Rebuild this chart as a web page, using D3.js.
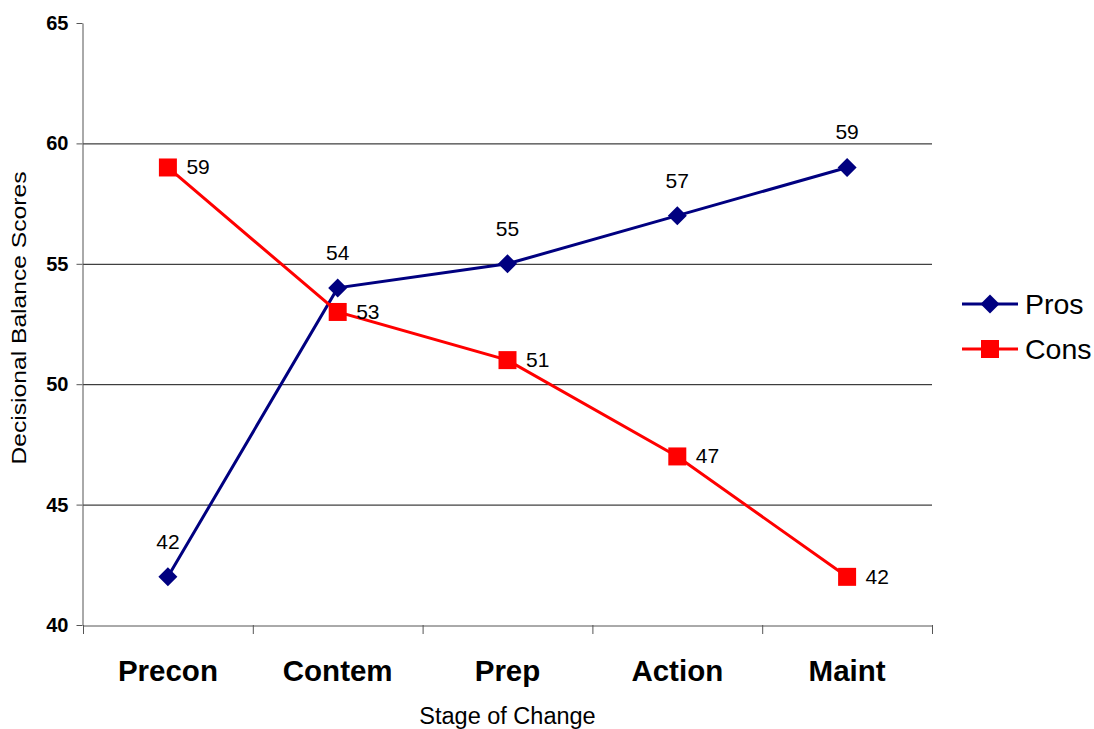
<!DOCTYPE html>
<html>
<head>
<meta charset="utf-8">
<script src="https://cdn.jsdelivr.net/npm/d3@7"></script>
<style>
  body { margin: 0; background: #fff; }
  svg { display: block; font-family: Arial, "Liberation Sans", sans-serif; }
</style>
</head>
<body>
<div id="chart"></div>
<script>
const stages = ['Precon', 'Contem', 'Prep', 'Action', 'Maint'];
const prosValues = [42, 54, 55, 57, 59];
const consValues = [59, 53, 51, 47, 42];
const yTicks = [40, 45, 50, 55, 60, 65];

const width = 1094, height = 729;
const margin = { top: 23, right: 162, bottom: 104, left: 83 };
const FONT = 'Arial, "Liberation Sans", sans-serif';

const svg = d3.select('#chart')
    .append('svg')
    .attr('width', width)
    .attr('height', height);

// X scale (categories)
const x = d3.scaleBand()
    .domain(stages)
    .range([margin.left, width - margin.right]);

// Y scale
const y = d3.scaleLinear()
    .domain([40, 65])
    .range([height - margin.bottom, margin.top]);

const xMid = d => x(d) + x.bandwidth() / 2;

// Gridlines (skip bottom & top)
svg.selectAll('.grid')
    .data(yTicks.filter(t => t > 40 && t < 65))
    .enter()
    .append('line')
    .attr('x1', margin.left)
    .attr('x2', width - margin.right)
    .attr('y1', d => y(d) + 0.5)
    .attr('y2', d => y(d) + 0.5)
    .attr('stroke', '#111')
    .attr('stroke-width', 1);

// Y axis
const yAxis = svg.append('g')
    .attr('transform', `translate(${margin.left - 0.5},0)`)
    .call(d3.axisLeft(y).tickValues(yTicks).tickSize(6).tickSizeOuter(0));
yAxis.select('.domain').attr('stroke', '#555');
yAxis.selectAll('.tick line').attr('stroke', '#555');
yAxis.selectAll('.tick text')
    .attr('font-size', '20px')
    .attr('font-weight', 'bold')
    .attr('fill', '#000')
    .attr('font-family', FONT)
    .attr('x', -14);

// X axis
const xAxis = svg.append('g')
    .attr('transform', `translate(0,${height - margin.bottom + 0.5})`)
    .call(d3.axisBottom(x).tickSize(0).tickSizeOuter(0));
xAxis.select('.domain').attr('stroke', '#555');
xAxis.selectAll('.tick text')
    .attr('font-size', '29.5px')
    .attr('font-weight', 'bold')
    .attr('fill', '#000')
    .attr('font-family', FONT)
    .attr('dy', '0')
    .attr('y', 55);

// Category boundary ticks
const bounds = stages.map(s => x(s)).concat([x(stages[stages.length - 1]) + x.bandwidth()]);
svg.selectAll('.xtick')
    .data(bounds)
    .enter()
    .append('line')
    .attr('x1', d => d + 0.5)
    .attr('x2', d => d + 0.5)
    .attr('y1', height - margin.bottom)
    .attr('y2', height - margin.bottom + 9)
    .attr('stroke', '#555');

// Axis titles
svg.append('text')
    .attr('x', xMid('Prep'))
    .attr('y', 724)
    .attr('text-anchor', 'middle')
    .attr('font-size', '23.5px')
    .text('Stage of Change');

svg.append('text')
    .attr('transform', 'translate(26,318) rotate(-90)')
    .attr('text-anchor', 'middle')
    .attr('font-size', '20px')
    .attr('textLength', 293)
    .attr('lengthAdjust', 'spacingAndGlyphs')
    .text('Decisional Balance Scores');

// Line generator
const line = d3.line()
    .x((d, i) => xMid(stages[i]))
    .y(d => y(d));

// Pros line
svg.append('path')
    .datum(prosValues)
    .attr('fill', 'none')
    .attr('stroke', '#000080')
    .attr('stroke-width', 3)
    .attr('d', line);

// Cons line
svg.append('path')
    .datum(consValues)
    .attr('fill', 'none')
    .attr('stroke', '#ff0000')
    .attr('stroke-width', 3)
    .attr('d', line);

const diamond = d3.symbol().type(d3.symbolDiamond2).size(230);
const square = d3.symbol().type(d3.symbolSquare).size(324);

// Pros markers
svg.selectAll('.dot-pros')
    .data(prosValues)
    .enter()
    .append('path')
    .attr('d', diamond)
    .attr('transform', (d, i) => `translate(${xMid(stages[i])},${y(d)})`)
    .attr('fill', '#000080');

// Cons markers
svg.selectAll('.dot-cons')
    .data(consValues)
    .enter()
    .append('path')
    .attr('d', square)
    .attr('transform', (d, i) => `translate(${xMid(stages[i])},${y(d)})`)
    .attr('fill', '#ff0000');

// Pros labels (above)
svg.selectAll('.lbl-pros')
    .data(prosValues)
    .enter()
    .append('text')
    .attr('x', (d, i) => xMid(stages[i]))
    .attr('y', d => y(d) - 28)
    .attr('text-anchor', 'middle')
    .attr('font-size', '21px')
    .text(d => d);

// Cons labels (right)
svg.selectAll('.lbl-cons')
    .data(consValues)
    .enter()
    .append('text')
    .attr('x', (d, i) => xMid(stages[i]) + 18.5)
    .attr('y', d => y(d) + 7)
    .attr('font-size', '21px')
    .text(d => d);

// Legend
const legend = [
    { name: 'Pros', color: '#000080', sym: diamond, y: 304 },
    { name: 'Cons', color: '#ff0000', sym: square, y: 349 }
];
const lg = svg.selectAll('.legend')
    .data(legend)
    .enter()
    .append('g')
    .attr('transform', d => `translate(962,${d.y})`);
lg.append('line')
    .attr('x1', 0).attr('x2', 56)
    .attr('stroke', d => d.color)
    .attr('stroke-width', 3);
lg.append('path')
    .attr('d', d => d.sym())
    .attr('transform', 'translate(28,0)')
    .attr('fill', d => d.color);
lg.append('text')
    .attr('x', 63)
    .attr('y', 9.5)
    .attr('font-size', '28.5px')
    .text(d => d.name);
</script>
</body>
</html>
